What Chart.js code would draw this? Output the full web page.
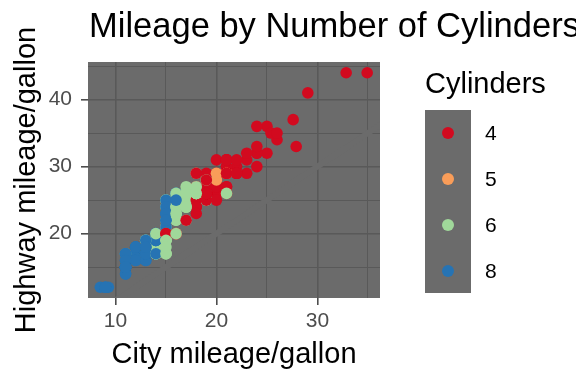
<!DOCTYPE html>
<html>
<head>
<meta charset="utf-8">
<script src="https://cdn.jsdelivr.net/npm/chart.js@4"></script>
<style>
  html, body { margin: 0; padding: 0; background: #fff; overflow: hidden; }
  #wrap { position: relative; width: 576px; height: 384px; overflow: hidden; font-family: "Liberation Sans", Arial, sans-serif; }
  #title { position: absolute; left: 89px; top: 5px; font-size: 34.5px; line-height: 40px; color: #000; white-space: nowrap; }
  #legend { position: absolute; left: 425px; top: 66px; }
  #legend .lt { font-size: 29px; line-height: 34px; color: #000; white-space: nowrap; }
  #legend .box { position: absolute; left: 0; top: 44px; width: 46px; height: 183px; background: #6b6b6b; }
  #legend .key { position: absolute; left: 0; width: 46px; height: 46px; }
  #legend .dot { position: absolute; left: 17px; top: 17px; width: 12px; height: 12px; border-radius: 50%; }
  #legend .lab { position: absolute; left: 60px; font-size: 21px; line-height: 24px; color: #000; }
</style>
</head>
<body>
<div id="wrap">
  <canvas id="c" width="576" height="384"></canvas>
  <div id="title">Mileage by Number of Cylinders</div>
  <div id="legend"></div>
</div>
<script>
/* ── mpg data: city / highway mileage and cylinders ──
   (a few isolated points carry the small horizontal offsets) */
const CTY = [
  18,21,20,21,16,18,18, 18,16,20,19,15,17,17,15, 15,17,16, 14,11,14,13,12,
  16,15,16,15,15, 14,11,11,14, 19,22,18,18,17, 18,17,16,16,17,17,11,15,15,16,16,
  15,14,13,14,14,14,8.5,11,11, 13,13,9.3,13,11,13,11, 12,9,13,13,12,9,11,13,11,11,
  11,11,12, 14,15,14,13,13,13, 14,14,13,13,13,11,13, 18,18,17,16,15,15,15,15,14,
  27.9,24,25,23,24,26,25,24,21, 18,18,21,21,18,18,19, 19,19,20,20,17,16,17,
  17,15,15,14,9,14,13,11, 11,12,12,11, 11,11,12, 14,13,13,13, 21,19,23,23,19,19,
  18,19,19, 14,15,14,12, 18,16,17,18,16, 18,18,20,19,20,18, 21,19,19,19,20,20,19,20,
  15,16,15,15,16,14, 21,21,21,21,18,18,19, 21,21,21,22,18,18,18, 24,24,25.4,27.6,26,
  11,13, 15,16,17,15,15,15,16, 21,19,21,22,17, 32.85,21,19,22,21,21,21,16,17,
  34.93,29.05,21,19,20,20, 21,18,19,22,21,18,17
];
const HWY = [
  29,29,31,30,26,26,27, 26,25,28,27,25,25,25,25, 24,25,23, 20,15,20,17,17,
  26,23,26,25,24, 19,14,15,17, 27,30,26,29,26, 24,24,22,22,24,24,17,22,21,23,23,
  19,18,17,17,19,19,12,17,15, 17,17,12,17,16,18,15, 16,12,17,17,16,12,15,17,15,15,
  17,17,18, 17,19,17,19,19,17, 17,17,16,16,17,15,17, 26,25,26,24,21,22,23,22,20,
  33,32,32,29,32,34,36,36,29, 26,27,30,31,26,26,28, 26,29,28,29,24,24,24,
  22,19,20,17,12,19,18,14, 15,18,18,15, 17,16,18, 17,19,19,17, 29,27,31,32,27,26,
  26,25,25, 17,17,20,18, 26,26,27,26,25, 25,24,27,25,26,23, 26,26,26,26,27,25,27,27,
  20,20,19,17,20,17, 29,27,31,31,26,26,28, 27,29,31,31,26,26,27, 30,33,35,37,35,
  15,18, 20,20,22,17,19,18,20, 29,26,29,29,24, 44,29,26,29,29,29,29,23,24,
  44,41,29,26,28,29, 29,29,28,29,26,26,26
];
const CYL = [
  4,4,4,4,6,6,6, 4,4,4,4,6,6,6,6, 6,6,8, 8,8,8,8,8,
  8,8,8,8,8, 8,8,8,8, 4,4,6,6,6, 4,6,6,6,6,6,6,6,6,6,6,
  6,6,6,6,8,8,8,8,8, 6,8,8,8,8,8,8, 8,8,8,8,8,8,8,8,8,8,
  8,8,8, 6,6,6,6,8,8, 6,6,8,8,8,8,8, 6,6,6,6,8,8,8,8,8,
  4,4,4,4,4,4,4,4,4, 4,4,4,4,6,6,6, 4,4,4,4,6,6,6,
  6,6,6,8,8,8,8,8, 8,8,8,8, 8,8,8, 6,6,8,8, 4,4,4,4,6,6,
  6,6,6, 6,6,6,8, 6,6,6,6,8, 4,4,4,4,4,4, 4,4,4,4,4,4,4,4,
  4,4,6,6,6,8, 4,4,4,4,6,6,6, 4,4,4,4,6,6,6, 4,4,4,4,4,
  8,8, 4,4,4,6,6,6,6, 4,4,4,4,6, 4,4,4,4,4,5,5,6,6,
  4,4,4,4,5,5, 4,4,4,4,6,6,6
];

/* legend levels and colours */
const CYL_LEVELS = [4, 5, 6, 8];
const CYL_COLORS = ['#d20a1f', '#f99d59', '#a0d89a', '#2673b3'];

/* axis ticks (minor ones unlabelled) */
const X_TICKS = [10, 15, 20, 25, 30, 35];
const Y_TICKS = [15, 20, 25, 30, 35, 40, 45];
const X_LABELED = [10, 20, 30];
const Y_LABELED = [20, 30, 40];

/* y = x reference line, drawn in panel colour */
const REF_X = [0, 50];

const PANEL_BG   = '#6b6b6b';
const GRID_COLOR = '#595959';
const TICK_COLOR = '#4d4d4d';
const FONT = '"Liberation Sans", Arial, sans-serif';

const colorOf = c => CYL_COLORS[CYL_LEVELS.indexOf(c)];
const isMajor = (list, v) => list.includes(v);

/* grey panel behind the grid */
const panelBg = {
  id: 'panelBg',
  beforeDraw(chart) {
    const { ctx, chartArea: a } = chart;
    ctx.save();
    ctx.fillStyle = PANEL_BG;
    ctx.fillRect(a.left, a.top, a.right - a.left, a.bottom - a.top);
    ctx.restore();
  },
};

new Chart(document.getElementById('c'), {
  type: 'scatter',
  data: {
    datasets: [
      {
        type: 'line',
        data: REF_X.map(v => ({ x: v, y: v })),
        borderColor: PANEL_BG,
        borderWidth: 6,
        pointRadius: 0,
        order: 2,
      },
      {
        data: CTY.map((v, i) => ({ x: v, y: HWY[i] })),
        pointBackgroundColor: CYL.map(colorOf),
        pointBorderWidth: 0,
        pointRadius: 5.8,
        pointHoverRadius: 5.8,
        order: 1,
      },
    ],
  },
  options: {
    responsive: false,
    animation: false,
    events: [],
    layout: { padding: { top: 62, right: 196, left: 0, bottom: 0 } },
    plugins: { legend: { display: false }, tooltip: { enabled: false } },
    scales: {
      x: {
        type: 'linear',
        min: 7.28,
        max: 36.2,
        afterFit: s => { s.height = 86; },
        afterBuildTicks: s => { s.ticks = X_TICKS.map(v => ({ value: v })); },
        border: { display: false },
        grid: {
          color: GRID_COLOR,
          lineWidth: c => isMajor(X_LABELED, c.tick.value) ? 1.6 : 1,
          tickColor: c => isMajor(X_LABELED, c.tick.value) ? TICK_COLOR : 'rgba(0,0,0,0)',
          tickLength: 7,
        },
        ticks: {
          color: TICK_COLOR,
          font: { family: FONT, size: 21 },
          padding: 4,
          maxRotation: 0,
          callback: v => isMajor(X_LABELED, v) ? String(v) : '',
        },
        title: {
          display: true,
          text: 'City mileage/gallon',
          color: '#000',
          font: { family: FONT, size: 29 },
          padding: { top: 0, bottom: 12 },
        },
      },
      y: {
        type: 'linear',
        min: 10.4,
        max: 45.6,
        afterFit: s => { s.width = 88; },
        afterBuildTicks: s => { s.ticks = Y_TICKS.map(v => ({ value: v })); },
        border: { display: false },
        grid: {
          color: GRID_COLOR,
          lineWidth: c => isMajor(Y_LABELED, c.tick.value) ? 1.6 : 1,
          tickColor: c => isMajor(Y_LABELED, c.tick.value) ? TICK_COLOR : 'rgba(0,0,0,0)',
          tickLength: 7,
        },
        ticks: {
          color: TICK_COLOR,
          font: { family: FONT, size: 21 },
          padding: 9,
          callback: v => isMajor(Y_LABELED, v) ? String(v) : '',
        },
        title: {
          display: true,
          text: 'Highway mileage/gallon',
          color: '#000',
          font: { family: FONT, size: 29 },
          padding: { top: 10, bottom: 0 },
        },
      },
    },
  },
  plugins: [panelBg],
});

/* ── HTML legend ── */
const leg = document.getElementById('legend');
let html = '<div class="lt">Cylinders</div><div class="box"></div>';
CYL_LEVELS.forEach((lvl, i) => {
  const top = 44 + i * 46;
  html += `<div class="key" style="top:${top}px"><div class="dot" style="background:${CYL_COLORS[i]}"></div></div>`;
  html += `<div class="lab" style="top:${top + 11}px">${lvl}</div>`;
});
leg.innerHTML = html;
</script>
</body>
</html>
